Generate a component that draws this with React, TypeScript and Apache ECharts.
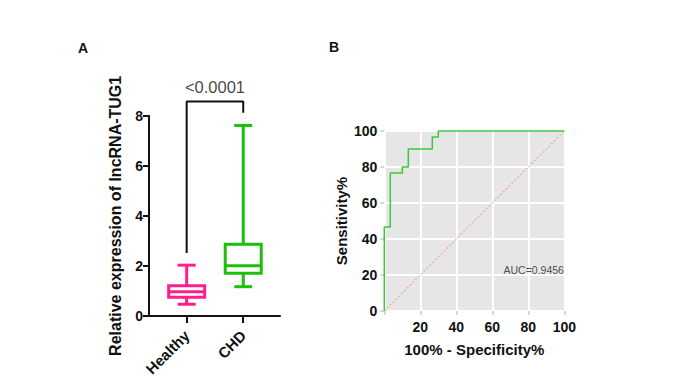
import React, { useEffect, useRef } from "react";
import * as echarts from "echarts";

// Panel A data
const categories = ["Healthy", "CHD"];
// [min, q1, median, q3, max]
const boxStats = [
  [0.47, 0.75, 0.97, 1.21, 2.03],
  [1.17, 1.71, 2.01, 2.87, 7.61],
];
const boxColors = ["#ff1e8c", "#1cbf0a"];
const yTicksA = [0, 2, 4, 6, 8];
const pLabel = "<0.0001";
const bracketX = [1, 1, 2, 2];
const bracketY = [2.52, 8.57, 8.57, 8.12];

// Panel B data
const rocX = [0, 0, 3.33, 3.33, 10, 10, 13.33, 13.33, 26.67, 26.67, 30, 30, 100];
const rocY = [0, 46.67, 46.67, 76.67, 76.67, 80, 80, 90, 90, 96.67, 96.67, 100, 100];
const diagX = [0, 100];
const diagY = [0, 100];
const aucText = "AUC=0.9456";
const aucPos = [83, 22.8];

const FONT = "Liberation Sans, Arial, Helvetica, sans-serif";

export default function App() {
  const ref = useRef<HTMLDivElement>(null);
  useEffect(() => {
    if (!ref.current) return;
    const chart = echarts.init(ref.current, null, { renderer: "svg" });
    const boxData = boxStats.map((s, i) => [i + 1, ...s]);
    const option: any = {
      animation: false,
      backgroundColor: "#ffffff",
      textStyle: { fontFamily: FONT },
      graphic: [
        { type: "text", left: 78, top: 41, style: { text: "A", font: `bold 14px ${FONT}`, fill: "#111" } },
        { type: "text", left: 329, top: 40, style: { text: "B", font: `bold 14px ${FONT}`, fill: "#111" } },
      ],
      grid: [
        { left: 149, top: 115.7, width: 131, height: 200.3, containLabel: false },
        {
          left: 384.3, top: 131, width: 180, height: 180, show: true,
          backgroundColor: "#e6e6e6", borderWidth: 0, borderColor: "transparent",
        },
      ],
      xAxis: [
        {
          gridIndex: 0, type: "value", min: 0.334, max: 2.65,
          axisLine: { show: true, lineStyle: { color: "#111", width: 2 } },
          axisTick: { show: true, customValues: [1, 2], length: 7, lineStyle: { color: "#111", width: 2 } },
          axisLabel: {
            customValues: [1, 2], rotate: 45, fontSize: 15, fontWeight: "bold", color: "#111",
            fontFamily: FONT, margin: 17,
            formatter: (v: number) => categories[Math.round(v) - 1] || "",
          },
          splitLine: { show: false },
        },
        {
          gridIndex: 1, type: "value", min: 0, max: 100, interval: 20,
          name: "100% - Specificity%", nameLocation: "middle", nameGap: 31,
          nameTextStyle: { fontSize: 15, fontWeight: "bold", color: "#111", fontFamily: FONT },
          axisLine: { show: false },
          axisTick: { show: true, length: 4, lineStyle: { color: "#c8c8c8", width: 1.5 } },
          axisLabel: {
            fontSize: 14, fontWeight: "bold", color: "#111", fontFamily: FONT, margin: 9,
            formatter: (v: number) => (v === 0 ? "" : String(v)),
          },
          splitLine: { show: true, lineStyle: { color: "#ffffff", width: 2 } },
        },
      ],
      yAxis: [
        {
          gridIndex: 0, type: "value", min: 0, max: 8, interval: 2,
          name: "Relative expression of lncRNA-TUG1", nameLocation: "middle", nameGap: 26,
          nameTextStyle: { fontSize: 16, fontWeight: "bold", color: "#111", fontFamily: FONT },
          axisLine: { show: true, lineStyle: { color: "#111", width: 2 } },
          axisTick: { show: true, length: 6, lineStyle: { color: "#111", width: 2 } },
          axisLabel: {
            fontSize: 14, fontWeight: "bold", color: "#111", fontFamily: FONT, margin: 6,
            formatter: (v: number) => (yTicksA.includes(v) ? String(v) : ""),
          },
          splitLine: { show: false },
        },
        {
          gridIndex: 1, type: "value", min: 0, max: 100, interval: 20,
          name: "Sensitivity%", nameLocation: "middle", nameGap: 35,
          nameTextStyle: { fontSize: 15, fontWeight: "bold", color: "#111", fontFamily: FONT },
          axisLine: { show: false },
          axisTick: { show: true, length: 4, lineStyle: { color: "#c8c8c8", width: 1.5 } },
          axisLabel: { fontSize: 14, fontWeight: "bold", color: "#111", fontFamily: FONT, margin: 7 },
          splitLine: { show: true, lineStyle: { color: "#ffffff", width: 2 } },
        },
      ],
      series: [
        {
          type: "custom",
          xAxisIndex: 0, yAxisIndex: 0,
          encode: { x: 0, y: [1, 2, 3, 4, 5] },
          data: boxData,
          renderItem: (params: any, api: any) => {
            const x = api.value(0);
            const lo = api.coord([x, api.value(1)]);
            const q1 = api.coord([x, api.value(2)]);
            const med = api.coord([x, api.value(3)]);
            const q3 = api.coord([x, api.value(4)]);
            const hi = api.coord([x, api.value(5)]);
            const cx = lo[0];
            const hw = 18;
            const cw = 9;
            const color = boxColors[params.dataIndex];
            const ls = { stroke: color, lineWidth: 3, fill: "none" };
            return {
              type: "group",
              children: [
                { type: "line", shape: { x1: cx, y1: q3[1], x2: cx, y2: hi[1] }, style: ls },
                { type: "line", shape: { x1: cx - cw, y1: hi[1], x2: cx + cw, y2: hi[1] }, style: ls },
                { type: "line", shape: { x1: cx, y1: q1[1], x2: cx, y2: lo[1] }, style: ls },
                { type: "line", shape: { x1: cx - cw, y1: lo[1], x2: cx + cw, y2: lo[1] }, style: ls },
                {
                  type: "rect",
                  shape: { x: cx - hw, y: q3[1], width: hw * 2, height: q1[1] - q3[1] },
                  style: { stroke: color, lineWidth: 3, fill: "#fff" },
                },
                { type: "line", shape: { x1: cx - hw, y1: med[1], x2: cx + hw, y2: med[1] }, style: ls },
              ],
            };
          },
          z: 3,
        },
        {
          type: "line",
          xAxisIndex: 0, yAxisIndex: 0,
          data: bracketX.map((x, i) => [x, bracketY[i]]),
          symbol: "none",
          clip: false,
          lineStyle: { color: "#111", width: 2 },
          label: { show: false },
          z: 2,
        },
        {
          type: "scatter",
          xAxisIndex: 0, yAxisIndex: 0,
          data: [[1.5, 9.16]],
          symbolSize: 0,
          clip: false,
          label: {
            show: true, position: "inside", formatter: pLabel,
            fontSize: 16.5, color: "#111", fontFamily: FONT,
          },
        },
        {
          type: "line",
          xAxisIndex: 1, yAxisIndex: 1,
          data: diagX.map((x, i) => [x, diagY[i]]),
          symbol: "none",
          lineStyle: { color: "#ff7a7a", width: 1, type: [2, 2] },
          z: 2,
        },
        {
          type: "line",
          xAxisIndex: 1, yAxisIndex: 1,
          data: rocX.map((x, i) => [x, rocY[i]]),
          symbol: "none",
          clip: false,
          lineStyle: { color: "#3cc83c", width: 1.5 },
          z: 3,
        },
        {
          type: "scatter",
          xAxisIndex: 1, yAxisIndex: 1,
          data: [aucPos],
          symbolSize: 0,
          label: {
            show: true, position: "inside", formatter: aucText,
            fontSize: 10.5, color: "#222", fontFamily: FONT,
          },
        },
      ],
    };
    chart.setOption(option);
    return () => chart.dispose();
  }, []);
  return (
    <div
      ref={ref}
      style={{ position: "fixed", left: 0, top: 0, width: 678, height: 384, background: "#fff" }}
    />
  );
}
